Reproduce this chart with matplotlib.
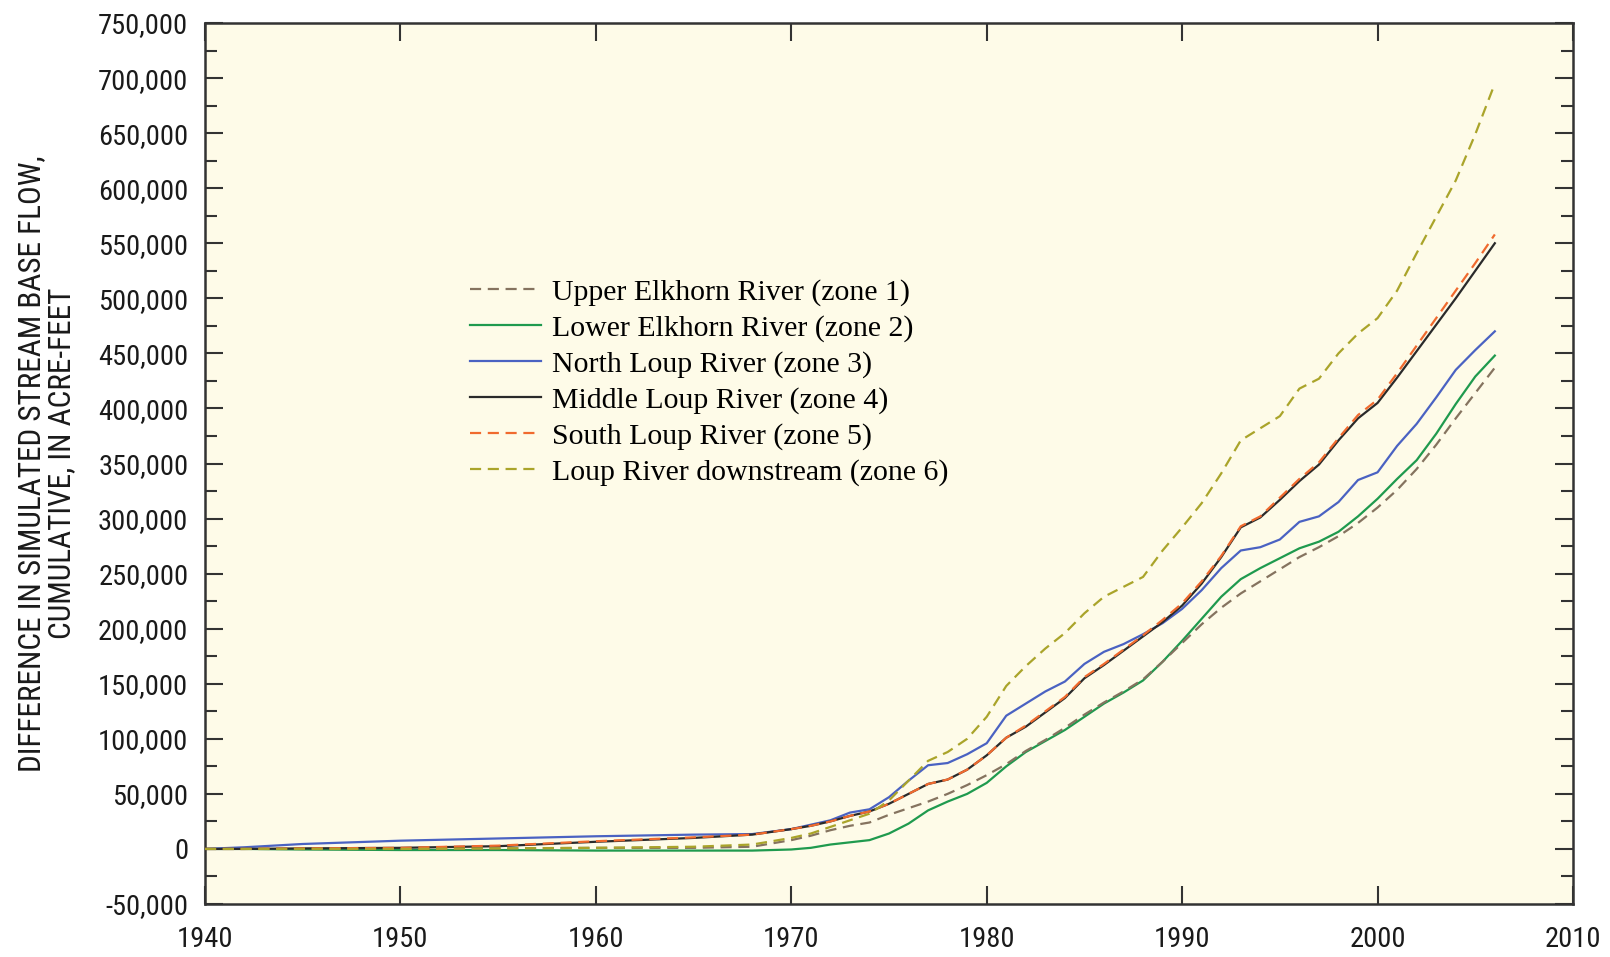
import matplotlib
matplotlib.use('Agg')
import matplotlib.pyplot as plt
from matplotlib import font_manager
from matplotlib.ticker import FuncFormatter, MultipleLocator

# cumulative difference in simulated base flow, acre-feet
years = [1940, 1942, 1945, 1950, 1955, 1960, 1965, 1968, 1970, 1971, 1972,
         1973, 1974, 1975, 1976, 1977, 1978, 1979, 1980, 1981, 1982, 1983,
         1984, 1985, 1986, 1987, 1988, 1989, 1990, 1991, 1992, 1993, 1994,
         1995, 1996, 1997, 1998, 1999, 2000, 2001, 2002, 2003, 2004, 2005,
         2006]

upper_elkhorn = [0, 0, 0, 0, 500, 1000, 1000, 2000, 8000, 12000, 17000,
                 21000, 24000, 31000, 37000, 43000, 50000, 58000, 67000, 77000,
                 89000, 99000, 110000, 122000, 133000, 143000, 154000, 170000,
                 187000, 204000, 219000, 232000, 243000, 254000, 265000,
                 274000, 284000, 296000, 310000, 326000, 345000, 367000,
                 391000, 414000, 437000]
lower_elkhorn = [0, 0, -500, -1000, -1000, -1500, -1500, -1500, -500, 1000,
                 4000, 6000, 8000, 14000, 23000, 35000, 43000, 50000, 60000,
                 75000, 88000, 98000, 108000, 120000, 132000, 142000, 153000,
                 170000, 189000, 209000, 229000, 245000, 255000, 264000,
                 273000, 279000, 288000, 302000, 318000, 336000, 353000,
                 377000, 404000, 429000, 448000]
north_loup = [0, 1500, 4500, 7500, 9500, 11500, 13000, 13500, 18000, 22000,
              26000, 33000, 36000, 47000, 62000, 76000, 78000, 86000, 96000,
              121000, 132000, 143000, 152000, 168000, 179000, 186000, 195000,
              205000, 218000, 235000, 255000, 271000, 274000, 281000, 297000,
              302000, 315000, 335000, 342000, 366000, 386000, 410000, 435000,
              453000, 470000]
middle_loup = [0, 0, 500, 1000, 2500, 6500, 10000, 13000, 18000, 21000,
               25000, 30000, 34000, 41000, 50000, 59000, 63000, 72000, 85000,
               101000, 111000, 124000, 137000, 155000, 167000, 180000, 193000,
               206000, 221000, 241000, 265000, 292000, 301000, 317000, 334000,
               349000, 371000, 391000, 405000, 428000, 452000, 476000, 500000,
               525000, 550000]
south_loup = [0, 0, 500, 1000, 3000, 7000, 10500, 13000, 18000, 21000,
              25000, 30000, 34000, 41000, 50000, 59000, 63000, 72000, 85000,
              101000, 112000, 125000, 138000, 156000, 168000, 181000, 194000,
              208000, 223000, 243000, 266000, 293000, 302000, 319000, 336000,
              351000, 373000, 394000, 408000, 432000, 457000, 482000, 507000,
              532000, 558000]
loup_downstream = [0, 0, 0, 0, 500, 1000, 2000, 4000, 10000, 14000, 20000,
                   26000, 32000, 44000, 62000, 80000, 88000, 100000, 120000,
                   148000, 166000, 182000, 196000, 214000, 229000, 238000,
                   247000, 271000, 292000, 314000, 341000, 371000, 382000,
                   393000, 418000, 427000, 450000, 468000, 482000, 507000,
                   541000, 574000, 607000, 649000, 695000]

labels = ['Upper Elkhorn River (zone 1)', 'Lower Elkhorn River (zone 2)',
          'North Loup River (zone 3)', 'Middle Loup River (zone 4)',
          'South Loup River (zone 5)', 'Loup River downstream (zone 6)']


def pick(names):
    for n in names:
        try:
            font_manager.findfont(n, fallback_to_default=False)
            return n
        except Exception:
            pass
    return 'DejaVu Sans'


narrow = pick(['Liberation Sans Narrow', 'Roboto Condensed', 'Liberation Sans'])
serif = pick(['Liberation Serif', 'DejaVu Serif'])

fig = plt.figure(figsize=(16.1, 9.57), dpi=100)
ax = fig.add_axes([205 / 1610, 1 - 904 / 957, 1368 / 1610, 881 / 957])
ax.set_facecolor('#fefbe8')

lw = 1.6
ax.plot(years, lower_elkhorn, color='#1f9a4e', lw=lw, zorder=2)
ax.plot(years, north_loup, color='#4a62c2', lw=lw, zorder=2)
ax.plot(years, upper_elkhorn, color='#85735f', lw=lw, dashes=(5, 3), zorder=3)
ax.plot(years, middle_loup, color='#2a2a2a', lw=lw, zorder=3)
ax.plot(years, south_loup, color='#f06a2e', lw=lw, dashes=(5, 3), zorder=4)
ax.plot(years, loup_downstream, color='#aaa42a', lw=lw, dashes=(5, 3), zorder=5)

ax.set_xlim(1940, 2010)
ax.set_ylim(-50000, 750000)
ax.xaxis.set_major_locator(MultipleLocator(10))
ax.yaxis.set_major_locator(MultipleLocator(50000))
ax.yaxis.set_minor_locator(MultipleLocator(25000))
ax.yaxis.set_major_formatter(FuncFormatter(lambda v, p: f'{int(v):,}'))

ax.tick_params(axis='both', which='major', direction='in', length=13,
               width=1.5, color='#333333', labelsize=20.5, pad=12)
ax.tick_params(axis='y', which='minor', direction='in', length=8.5,
               width=1.5, color='#333333')
ax.tick_params(top=True, right=True, which='both')
ax.tick_params(axis='x', which='major', pad=16)
for lab in ax.get_xticklabels() + ax.get_yticklabels():
    lab.set_fontfamily(narrow)
    lab.set_color('#1a1a1a')
for s in ax.spines.values():
    s.set_linewidth(1.8)
    s.set_color('#333333')

ax.set_ylabel('DIFFERENCE IN SIMULATED STREAM BASE FLOW,\nCUMULATIVE, IN ACRE-FEET',
              fontfamily=narrow, fontsize=22.5, color='#1a1a1a', linespacing=1.05,
              labelpad=16)

handles = ax.get_lines()
order = [2, 0, 1, 3, 4, 5]
ax.legend([handles[i] for i in order], labels, loc='upper left',
          bbox_to_anchor=((470 - 205) / 1368, (904 - 279) / 881),
          frameon=False, prop={'family': serif, 'size': 21.5},
          handlelength=2.38, handletextpad=0.37, labelspacing=0.29,
          borderpad=0, borderaxespad=0)

fig.savefig('out.png', dpi=100, facecolor='white')
